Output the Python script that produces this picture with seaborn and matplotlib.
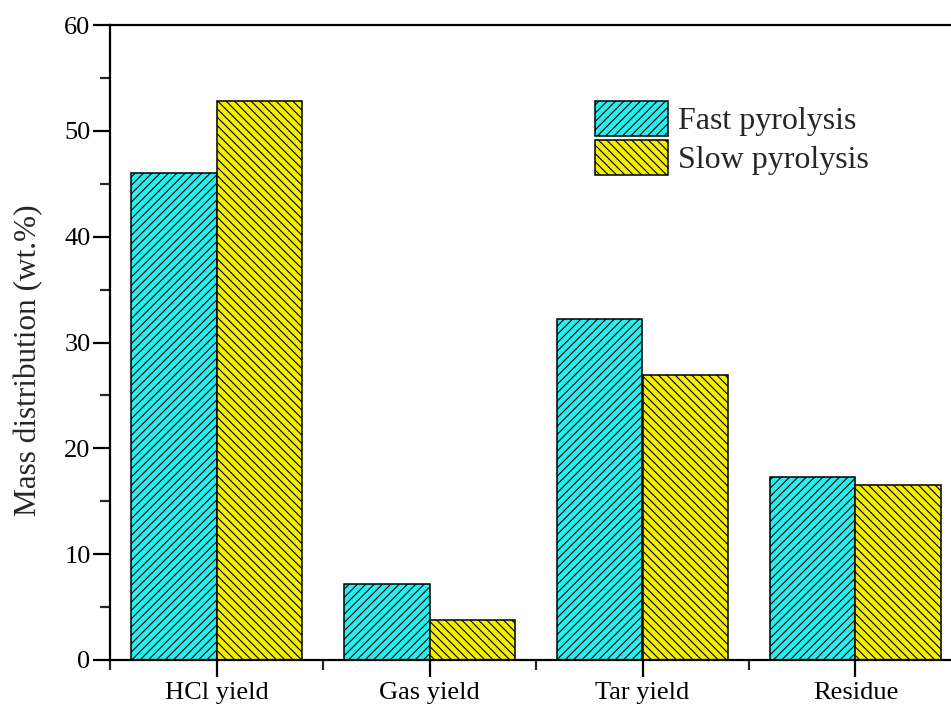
import matplotlib
matplotlib.use("Agg")
import matplotlib.pyplot as plt
import seaborn as sns
import pandas as pd
from matplotlib.ticker import MultipleLocator, FixedLocator

categories = ["HCl yield", "Gas yield", "Tar yield", "Residue"]
fast_values = [46.0, 7.2, 32.2, 17.3]
slow_values = [52.8, 3.8, 26.9, 16.5]
series_names = ["Fast pyrolysis", "Slow pyrolysis"]

df = pd.DataFrame({
    "category": categories * 2,
    "value": fast_values + slow_values,
    "series": [series_names[0]] * 4 + [series_names[1]] * 4,
})

sns.set_theme(style="ticks")
plt.rcParams["font.family"] = ["Liberation Serif", "DejaVu Serif"]
plt.rcParams["hatch.linewidth"] = 0.8
plt.rcParams["hatch.color"] = "black"

fig = plt.figure(figsize=(9.51, 7.09), dpi=100)
ax = fig.add_axes([110 / 951, 1 - 660 / 709, (962 - 110) / 951, (660 - 25) / 709])

palette = {series_names[0]: "#28EEEE", series_names[1]: "#F4F000"}
sns.barplot(data=df, x="category", y="value", hue="series", order=categories,
            hue_order=series_names, palette=palette, width=0.8, saturation=1,
            edgecolor="black", linewidth=1.1, legend=False, ax=ax)

hatches = ["////", "\\\\\\\\"]
for cont, h in zip(ax.containers, hatches):
    for p in cont:
        p.set_hatch(h)
        p.set_edgecolor("black")

ax.set_xlim(-0.5, 3.5)
ax.set_ylim(0, 60)
ax.yaxis.set_major_locator(MultipleLocator(10))
ax.yaxis.set_minor_locator(MultipleLocator(5))
ax.xaxis.set_minor_locator(FixedLocator([-0.5, 0.5, 1.5, 2.5]))

for s in ["left", "bottom", "top", "right"]:
    ax.spines[s].set_linewidth(1.6)
    ax.spines[s].set_color("black")

ax.tick_params(axis="both", which="major", direction="out", length=12, width=1.6,
               labelsize=19, colors="black", pad=2)
ax.tick_params(axis="both", which="minor", direction="out", length=7, width=1.6)
ax.tick_params(axis="x", which="major", pad=4)

ax.set_xlabel("")
ax.set_ylabel("Mass distribution (wt.%)", fontsize=22.5)
ax.yaxis.set_label_coords(-0.078, 0.472)

leg = ax.legend(ax.containers, series_names, loc="upper left",
                bbox_to_anchor=((595 - 110) / 852, 1 - (101 - 25) / 635),
                frameon=False, fontsize=23, handlelength=2.3, handleheight=1.3,
                handletextpad=0.3, labelspacing=0.12, borderaxespad=0, borderpad=0)

fig.savefig("out.png", dpi=100)
